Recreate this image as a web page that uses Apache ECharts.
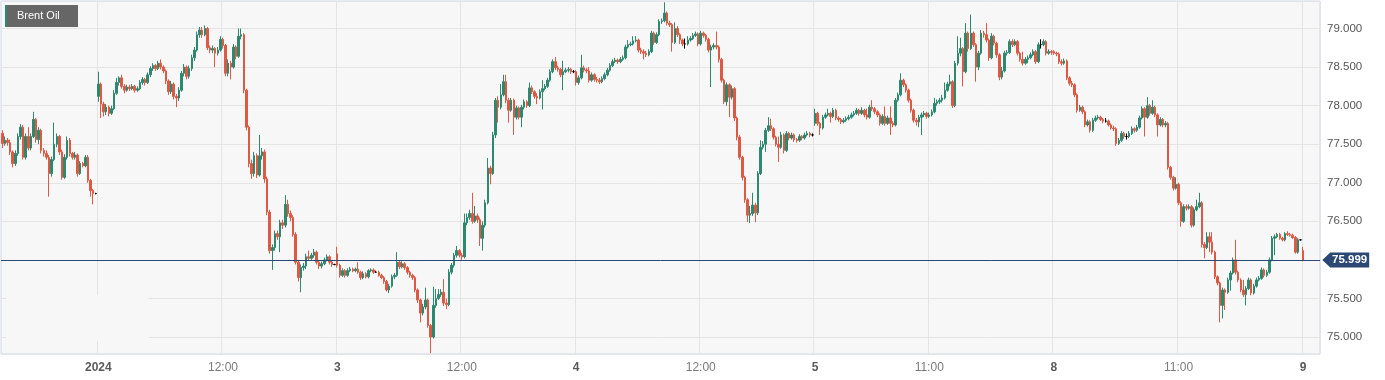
<!DOCTYPE html>
<html><head><meta charset="utf-8">
<script src="https://cdn.jsdelivr.net/npm/echarts@6/dist/echarts.min.js"></script>
<style>html,body{margin:0;padding:0;background:#fff}#c{width:1385px;height:380px}</style>
</head><body><div id="c"></div>
<script>
// trading sessions: start (label time), number of 15-minute candles
const sessions = [
  ['2023-12-29T13:45', 37], ['2024-01-02T00:00', 92], ['2024-01-03T00:00', 92],
  ['2024-01-04T00:00', 92], ['2024-01-05T00:00', 92], ['2024-01-07T23:00', 96],
  ['2024-01-09T00:00', 7]
];
const tickCats = ['2024-01-02 00:00','2024-01-02 12:00','2024-01-03 00:00','2024-01-03 12:00','2024-01-04 00:00','2024-01-04 12:00','2024-01-05 00:00','2024-01-05 11:00','2024-01-07 23:00','2024-01-08 11:00','2024-01-09 00:00'];
const tickText = ['2024','12:00','3','12:00','4','12:00','5','11:00','8','11:00','9'];
const tickBold = [1,0,1,0,1,0,1,0,1,0,1];

// opens that differ from the previous close (session gaps)
const gapOpens = {0: 77.64, 37: 78.12, 129: 76.08, 313: 77.77, 405: 78.70, 501: 76.12};

const closes = [
77.51,77.55,77.52,77.40,77.25,77.38,77.60,77.72,77.33,77.60,
77.45,77.60,77.82,77.56,77.68,77.42,77.38,77.33,77.12,77.30,
77.50,77.60,77.40,77.07,77.33,77.55,77.38,77.33,77.36,77.12,
77.25,77.22,77.33,77.03,76.90,76.86,76.86,78.28,78.02,77.92,
77.98,77.90,77.96,78.16,78.30,78.36,78.25,78.20,78.24,78.22,
78.25,78.20,78.22,78.30,78.34,78.30,78.40,78.48,78.52,78.48,
78.55,78.50,78.45,78.32,78.18,78.28,78.12,78.10,78.20,78.42,
78.50,78.38,78.48,78.62,78.72,78.92,78.98,78.92,79.00,78.75,
78.72,78.74,78.68,78.72,78.86,78.78,78.42,78.55,78.50,78.76,
78.64,78.90,78.92,78.20,77.72,77.25,77.12,77.35,77.10,77.35,
77.40,77.05,76.62,76.12,76.16,76.34,76.30,76.48,76.45,76.72,
76.60,76.55,76.33,75.97,75.77,75.90,75.92,76.04,76.02,76.06,
76.10,75.97,75.92,75.95,76.00,76.04,75.97,75.94,75.94,75.93,
75.80,75.86,75.80,75.86,75.88,75.86,75.88,75.84,75.77,75.82,
75.78,75.86,75.87,75.84,75.84,75.80,75.77,75.72,75.61,75.66,
75.78,75.80,75.97,75.91,75.95,75.90,75.84,75.80,75.77,75.61,
75.48,75.31,75.39,75.48,75.15,75.00,75.41,75.50,75.55,75.58,
75.44,75.42,75.84,75.93,76.06,76.12,76.06,76.04,76.48,76.55,
76.60,76.50,76.57,76.52,76.28,76.45,76.74,77.19,77.12,77.62,
78.07,77.98,78.14,78.31,78.07,77.94,78.07,77.85,77.97,77.85,
77.98,78.05,78.00,78.23,78.18,78.12,78.10,78.18,78.22,78.25,
78.33,78.44,78.57,78.49,78.47,78.40,78.44,78.46,78.47,78.44,
78.44,78.30,78.36,78.49,78.46,78.45,78.33,78.40,78.34,78.33,
78.31,78.35,78.40,78.46,78.52,78.57,78.59,78.57,78.60,78.62,
78.76,78.79,78.80,78.84,78.85,78.72,78.70,78.68,78.66,78.70,
78.94,78.82,78.92,79.09,79.10,79.20,79.07,79.05,78.82,79.00,
78.92,78.85,78.80,78.80,78.85,78.87,78.91,78.93,78.80,78.94,
78.91,78.86,78.72,78.76,78.78,78.76,78.60,78.33,78.05,78.27,
78.11,78.22,77.84,77.59,77.33,77.07,76.78,76.58,76.60,76.71,
76.61,77.12,77.46,77.50,77.68,77.74,77.70,77.59,77.50,77.46,
77.62,77.42,77.64,77.58,77.62,77.56,77.55,77.60,77.58,77.62,
77.64,77.62,77.62,77.90,77.77,77.71,77.85,77.88,77.90,77.86,
77.94,77.84,77.82,77.79,77.81,77.83,77.85,77.88,77.90,77.94,
77.90,77.94,77.88,77.85,77.98,77.96,77.92,77.88,77.77,77.86,
77.77,77.84,77.77,77.75,78.07,78.14,78.33,78.27,78.20,78.07,
77.94,77.81,77.79,77.85,77.88,77.90,77.86,77.88,77.92,78.03,
78.05,78.07,78.10,78.20,78.28,78.31,78.00,78.55,78.68,78.74,
78.44,78.94,78.74,78.94,78.79,78.50,78.68,78.94,78.92,78.85,
78.62,78.90,78.81,78.66,78.37,78.45,78.68,78.69,78.83,78.79,
78.83,78.68,78.60,78.55,78.60,78.62,78.66,78.70,78.57,78.79,
78.79,78.83,78.68,78.70,78.69,78.68,78.67,78.57,78.55,78.58,
78.36,78.29,78.27,78.14,77.94,77.98,77.92,77.75,77.79,77.68,
77.81,77.84,77.85,77.82,77.80,77.80,77.75,77.71,77.70,77.51,
77.55,77.64,77.60,77.60,77.64,77.70,77.68,77.72,77.84,77.96,
77.85,78.00,77.90,77.98,77.88,77.75,77.82,77.75,77.77,77.20,
77.07,76.93,76.98,76.74,76.50,76.69,76.67,76.69,76.45,76.65,
76.69,76.74,76.20,76.16,76.30,76.23,76.10,75.78,75.70,75.41,
75.61,75.58,75.74,75.83,76.00,75.84,75.74,75.61,75.55,75.63,
75.74,75.57,75.66,75.74,75.76,75.87,75.80,75.84,76.00,76.28,
76.30,76.33,76.28,76.26,76.34,76.33,76.32,76.29,76.10,76.26,
76.26,75.999
];
const highs = [
77.68,77.60,77.58,77.56,77.42,77.42,77.64,77.76,77.75,77.64,
77.72,77.64,77.92,77.84,77.72,77.70,77.45,77.42,77.36,77.34,
77.78,77.64,77.62,77.43,77.37,77.60,77.58,77.40,77.40,77.38,
77.28,77.27,77.36,77.36,77.05,76.92,76.87,78.44,78.30,78.05,
78.02,78.00,78.00,78.20,78.36,78.38,78.40,78.28,78.27,78.27,
78.28,78.27,78.25,78.33,78.37,78.36,78.43,78.51,78.55,78.54,
78.58,78.60,78.52,78.47,78.34,78.32,78.30,78.15,78.24,78.45,
78.54,78.52,78.52,78.66,78.76,78.96,79.02,79.02,79.04,79.02,
78.78,78.78,78.76,78.76,78.90,78.88,78.80,78.60,78.58,78.80,
78.78,79.00,79.00,78.94,78.22,77.74,77.30,77.40,77.38,77.62,
77.45,77.43,77.08,76.65,76.20,76.38,76.38,76.52,76.52,76.84,
76.78,76.64,76.58,76.36,76.00,75.94,75.96,76.08,76.12,76.09,
76.14,76.12,75.99,75.98,76.03,76.07,76.06,75.99,75.95,76.17,
75.95,75.89,75.88,75.89,75.91,75.90,75.90,75.97,75.86,75.85,
75.84,75.88,75.89,75.89,75.86,75.86,75.82,75.79,75.74,75.69,
75.81,75.83,76.10,75.99,75.98,75.97,75.92,75.86,75.82,75.79,
75.63,75.50,75.43,75.64,75.50,75.17,75.65,75.62,75.62,75.62,
75.75,75.50,75.88,75.96,76.09,76.18,76.14,76.09,76.60,76.60,
76.65,76.87,76.70,76.60,76.55,76.50,76.78,77.32,77.22,77.66,
78.10,78.12,78.28,78.40,78.40,78.10,78.10,78.09,78.00,77.99,
78.01,78.08,78.07,78.30,78.26,78.20,78.16,78.21,78.33,78.28,
78.36,78.47,78.60,78.63,78.52,78.49,78.58,78.49,78.50,78.49,
78.46,78.46,78.39,78.66,78.52,78.49,78.50,78.43,78.42,78.37,
78.36,78.38,78.43,78.49,78.55,78.60,78.62,78.61,78.63,78.65,
78.79,78.85,78.83,78.90,78.90,78.87,78.75,78.73,78.71,78.73,
78.97,78.96,78.95,79.12,79.13,79.34,79.22,79.10,79.07,79.08,
79.03,78.94,78.87,78.87,78.90,78.90,78.94,78.96,78.95,78.97,
78.96,78.93,78.88,78.79,78.81,78.96,78.78,78.62,78.35,78.30,
78.29,78.26,78.24,77.86,77.62,77.35,77.09,76.80,76.70,76.87,
76.74,77.15,77.55,77.54,77.71,77.85,77.83,77.72,77.61,77.60,
77.66,77.64,77.67,77.66,77.65,77.64,77.58,77.63,77.62,77.65,
77.67,77.66,77.64,77.96,77.92,77.79,77.88,77.91,77.96,77.92,
77.97,77.96,77.86,77.84,77.84,77.86,77.88,77.91,77.93,77.97,
77.96,77.98,77.96,77.96,78.01,78.07,77.98,77.94,77.90,77.89,
77.99,77.87,77.99,77.80,78.10,78.17,78.42,78.35,78.29,78.22,
78.09,77.96,77.84,77.88,77.91,77.93,77.92,77.91,77.95,78.10,
78.08,78.10,78.14,78.30,78.31,78.40,78.33,78.58,78.90,78.88,
78.76,79.07,78.96,79.18,78.96,78.81,78.71,78.98,78.97,79.07,
78.87,78.94,78.92,78.83,78.68,78.50,78.71,78.72,78.86,78.86,
78.86,78.85,78.70,78.70,78.63,78.65,78.69,78.73,78.72,78.82,
78.86,78.86,78.85,78.73,78.72,78.72,78.70,78.69,78.60,78.61,
78.60,78.38,78.32,78.29,78.16,78.01,78.00,77.94,77.82,77.81,
77.84,77.87,77.88,77.87,77.84,77.84,77.82,77.77,77.74,77.72,
77.58,77.67,77.66,77.64,77.67,77.73,77.72,77.75,77.87,77.99,
77.98,78.11,78.02,78.07,78.00,77.90,77.85,77.84,77.80,77.79,
77.22,77.09,77.07,77.00,76.76,76.72,76.72,76.72,76.71,76.68,
76.78,76.87,76.76,76.23,76.36,76.36,76.36,76.12,75.80,75.72,
75.64,75.63,75.77,75.86,76.03,76.26,75.86,75.76,75.74,75.66,
75.77,75.76,75.69,75.77,75.79,75.90,75.89,75.87,76.03,76.31,
76.33,76.35,76.35,76.30,76.36,76.37,76.35,76.34,76.31,76.28,
76.27,76.17
];
const lows = [
77.45,77.48,77.48,77.36,77.20,77.22,77.35,77.56,77.30,77.30,
77.42,77.42,77.58,77.52,77.50,77.38,77.34,77.30,76.82,77.08,
77.28,77.46,77.36,77.04,77.05,77.30,77.34,77.30,77.30,77.08,
77.10,77.20,77.20,77.00,76.82,76.72,76.85,78.05,77.84,77.86,
77.88,77.86,77.88,77.94,78.14,78.26,78.22,78.16,78.18,78.19,
78.20,78.17,78.18,78.20,78.27,78.26,78.28,78.37,78.45,78.45,
78.46,78.47,78.42,78.28,78.14,78.15,78.08,77.98,78.06,78.18,
78.38,78.34,78.35,78.45,78.58,78.70,78.88,78.88,78.90,78.72,
78.68,78.68,78.50,78.65,78.70,78.74,78.38,78.38,78.34,78.48,
78.60,78.62,78.86,78.16,77.68,77.20,77.05,77.08,77.06,77.08,
77.30,77.00,76.58,76.08,75.87,76.12,76.26,76.10,76.40,76.42,
76.56,76.50,76.30,75.94,75.72,75.58,75.86,75.88,75.99,76.00,
76.03,75.94,75.88,75.89,75.93,75.98,75.94,75.91,75.93,75.90,
75.77,75.78,75.77,75.78,75.84,75.84,75.84,75.82,75.74,75.75,
75.76,75.76,75.84,75.82,75.83,75.78,75.75,75.69,75.59,75.57,
75.64,75.75,75.78,75.88,75.89,75.87,75.81,75.77,75.74,75.58,
75.44,75.19,75.28,75.36,75.12,74.79,74.98,75.38,75.48,75.52,
75.40,75.36,75.40,75.81,75.90,76.03,76.03,76.00,76.02,76.45,
76.52,76.47,76.48,76.48,76.18,76.12,76.42,76.72,76.98,77.10,
77.58,77.78,77.95,78.12,78.03,77.78,77.92,77.62,77.82,77.82,
77.72,77.95,77.97,77.98,78.15,78.09,78.02,78.08,77.95,78.20,
78.23,78.31,78.42,78.46,78.44,78.37,78.20,78.42,78.43,78.41,
78.42,78.26,78.27,78.34,78.43,78.42,78.30,78.31,78.31,78.30,
78.28,78.29,78.33,78.38,78.44,78.50,78.55,78.54,78.55,78.58,
78.60,78.74,78.77,78.78,78.82,78.69,78.67,78.60,78.63,78.64,
78.68,78.79,78.80,78.90,79.06,79.08,79.04,79.02,78.70,78.80,
78.89,78.80,78.77,78.74,78.78,78.83,78.85,78.89,78.77,78.78,
78.88,78.83,78.69,78.24,78.73,78.73,78.56,78.30,78.02,78.00,
77.85,78.08,77.80,77.55,77.30,77.03,76.74,76.49,76.48,76.57,
76.49,76.58,77.10,77.43,77.40,77.66,77.67,77.56,77.47,77.27,
77.44,77.38,77.40,77.55,77.56,77.53,77.52,77.53,77.55,77.56,
77.60,77.59,77.60,77.74,77.74,77.62,77.69,77.83,77.86,77.78,
77.84,77.81,77.79,77.76,77.77,77.79,77.81,77.83,77.86,77.88,
77.87,77.88,77.85,77.82,77.83,77.93,77.89,77.85,77.74,77.75,
77.74,77.75,77.62,77.72,77.73,78.05,78.12,78.24,78.17,78.04,
77.91,77.78,77.74,77.72,77.62,77.85,77.83,77.84,77.86,77.90,
78.00,78.02,78.04,78.08,78.18,78.25,77.97,77.98,78.52,78.64,
78.25,78.42,78.70,78.72,78.76,78.31,78.46,78.66,78.88,78.82,
78.58,78.60,78.78,78.62,78.33,78.34,78.43,78.65,78.67,78.76,
78.77,78.65,78.57,78.52,78.53,78.55,78.60,78.64,78.54,78.55,
78.74,78.77,78.65,78.66,78.66,78.66,78.64,78.54,78.52,78.53,
78.33,78.26,78.24,78.11,77.91,77.92,77.89,77.72,77.73,77.65,
77.66,77.79,77.82,77.80,77.77,77.78,77.73,77.69,77.67,77.48,
77.49,77.53,77.57,77.56,77.58,77.62,77.65,77.66,77.70,77.82,
77.60,77.83,77.87,77.88,77.85,77.60,77.73,77.72,77.72,77.17,
77.04,76.90,76.91,76.71,76.43,76.48,76.64,76.65,76.42,76.43,
76.63,76.67,76.16,76.02,76.14,76.10,76.07,75.75,75.67,75.19,
75.24,75.35,75.56,75.60,75.81,75.81,75.71,75.58,75.52,75.41,
75.61,75.54,75.55,75.64,75.72,75.74,75.77,75.78,75.82,75.98,
76.06,76.28,76.26,76.24,76.24,76.31,76.30,76.27,76.08,76.08,
76.25,75.98
];

const categories = [];
for (const [start, n] of sessions) {
  let t = Date.parse(start + ':00Z');
  for (let k = 0; k < n; k++) {
    categories.push(new Date(t).toISOString().slice(0, 16).replace('T', ' '));
    t += 15 * 60000;
  }
}
const ohlc = closes.map((c, i) => {
  const o = (i in gapOpens) ? gapOpens[i] : closes[i - 1];
  return [o, c, lows[i], highs[i]];
});
const lastPrice = closes[closes.length - 1];
const tickIdx = {};
tickCats.forEach((c, k) => { tickIdx[c] = k; });
const isTick = (idx, val) => val in tickIdx;

const UP = '#2d8870', DOWN = '#dd5944', TAG = '#2a4873';
const FONT = '"Liberation Sans", Arial, Helvetica, sans-serif';
const chart = echarts.init(document.getElementById('c'), null, {renderer: 'canvas'});
chart.setOption({
  animation: false,
  backgroundColor: '#ffffff',
  textStyle: {fontFamily: FONT},
  grid: {left: 1, right: 65, top: 1, bottom: 26, show: true, backgroundColor: '#f7f7f7', borderColor: '#cfd6e8', borderWidth: 1},
  xAxis: {
    type: 'category', data: categories, boundaryGap: true,
    axisLine: {show: false}, axisTick: {show: false},
    axisLabel: {
      interval: isTick, margin: 8, fontFamily: FONT,
      formatter: (val) => {
        const k = tickIdx[val];
        if (k === undefined) return '';
        return tickBold[k] ? '{b|' + tickText[k] + '}' : '{n|' + tickText[k] + '}';
      },
      rich: {
        b: {fontWeight: 'bold', color: '#5a5a5a', fontSize: 12, fontFamily: FONT},
        n: {color: '#7a7a7a', fontSize: 12, fontFamily: FONT}
      }
    },
    splitLine: {show: true, interval: isTick, lineStyle: {color: '#e4e4e4', width: 1}}
  },
  yAxis: {
    type: 'value', position: 'right', scale: true,
    min: 74.7796, max: 79.3566, splitNumber: 9,
    axisLine: {show: false}, axisTick: {show: false},
    axisLabel: {showMinLabel: false, showMaxLabel: false, color: '#555', fontSize: 11.5, margin: 7, fontFamily: FONT,
      formatter: (v) => v.toFixed(3)},
    splitLine: {show: true, lineStyle: {color: '#e4e4e4', width: 1}}
  },
  graphic: [
    {type: 'rect', z: 1, shape: {x: 6, y: 295, width: 143, height: 46}, style: {fill: '#f7f7f7'}, silent: true},
    {type: 'rect', z: 10, shape: {x: 5, y: 5, width: 73, height: 22}, style: {fill: '#666666'}},
    {type: 'rect', z: 11, shape: {x: 5, y: 5, width: 2, height: 22}, style: {fill: UP}},
    {type: 'text', z: 11, x: 17, y: 16, style: {text: 'Brent Oil', fill: '#ffffff', font: '11px ' + FONT, textVerticalAlign: 'middle'}}
  ],
  series: [{
    type: 'candlestick',
    data: ohlc,
    barWidth: 2,
    clip: true,
    itemStyle: {color: UP, color0: DOWN, borderColor: UP, borderColor0: DOWN, borderColorDoji: '#000', borderWidth: 1},
    markLine: {
      silent: true, symbol: ['none', 'none'], animation: false,
      data: [{yAxis: lastPrice}],
      lineStyle: {color: TAG, width: 1, type: 'solid'},
      label: {show: true, position: 'end', distance: 10, formatter: lastPrice.toFixed(3),
        color: '#fff', backgroundColor: TAG, fontWeight: 'bold', fontSize: 11.5, fontFamily: FONT,
        padding: [2, 2, 1, 2]}
    },
    markPoint: {
      silent: true, animation: false,
      symbol: 'path://M0,5 L8,0 L8,10 Z', symbolSize: [8, 15], symbolOffset: [7.6, 0],
      itemStyle: {color: TAG},
      label: {show: false},
      data: [{coord: [categories[categories.length - 1], lastPrice]}]
    }
  }]
});
</script>
</body></html>
